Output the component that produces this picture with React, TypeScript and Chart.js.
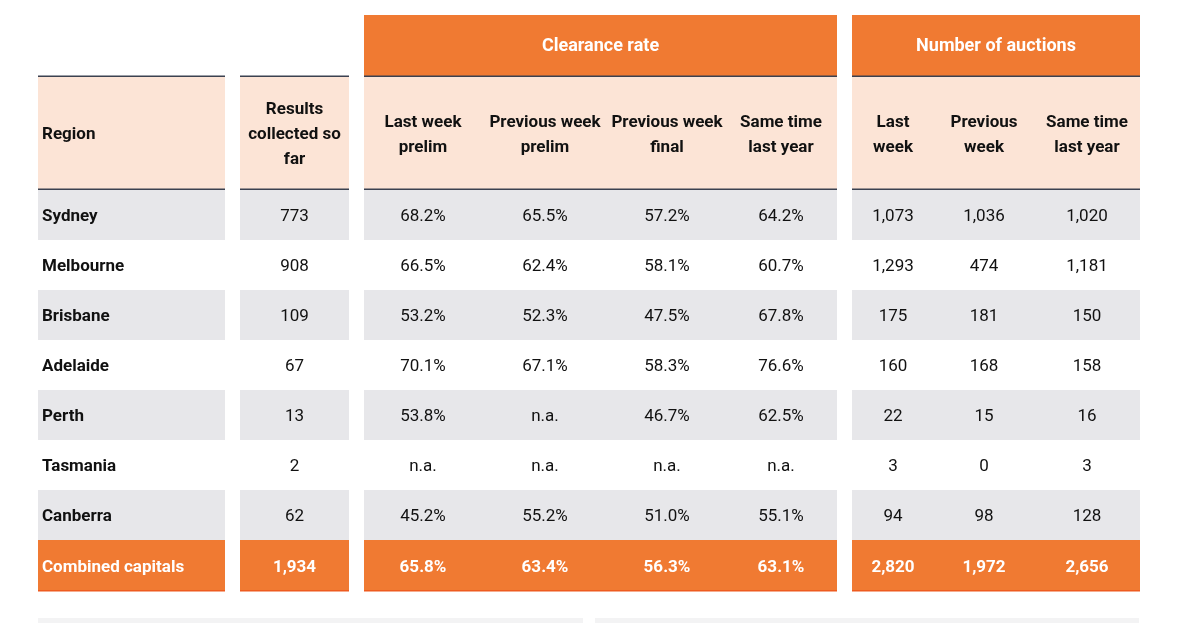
import React, { useEffect, useRef } from 'react';
import { Chart, registerables } from 'chart.js';

Chart.register(...registerables);

// ---------- DATA ----------
const regions = ['Sydney', 'Melbourne', 'Brisbane', 'Adelaide', 'Perth', 'Tasmania', 'Canberra'];
const resultsCollected = [773, 908, 109, 67, 13, 2, 62];
const lastWeekPrelim = [68.2, 66.5, 53.2, 70.1, 53.8, null, 45.2];
const prevWeekPrelim = [65.5, 62.4, 52.3, 67.1, null, null, 55.2];
const prevWeekFinal = [57.2, 58.1, 47.5, 58.3, 46.7, null, 51.0];
const sameTimeLastYearRate = [64.2, 60.7, 67.8, 76.6, 62.5, null, 55.1];
const auctionsLastWeek = [1073, 1293, 175, 160, 22, 3, 94];
const auctionsPrevWeek = [1036, 474, 181, 168, 15, 0, 98];
const auctionsLastYear = [1020, 1181, 150, 158, 16, 3, 128];

const combinedLabel = 'Combined capitals';
const combinedResults = 1934;
const combinedRates = [65.8, 63.4, 56.3, 63.1];
const combinedAuctions = [2820, 1972, 2656];

const groupHeaders = ['Clearance rate', 'Number of auctions'];
const regionHeader = 'Region';
const resultsHeader = ['Results', 'collected so', 'far'];
const rateHeaders = [
  ['Last week', 'prelim'],
  ['Previous week', 'prelim'],
  ['Previous week', 'final'],
  ['Same time', 'last year'],
];
const auctionHeaders = [
  ['Last', 'week'],
  ['Previous', 'week'],
  ['Same time', 'last year'],
];

// ---------- LAYOUT / STYLE ----------
const W = 1187;
const H = 623;
const blocks = [
  [38, 225],
  [240, 349],
  [364, 837],
  [852, 1140],
];
const colCenters = [294.5, 423, 545, 667, 781, 893, 984, 1087];
const regionTextX = 42;
const ROW_TOP = 190;
const ROW_H = 50;
const HEAD1_TOP = 15;
const HEAD_LINE = 76;
const HEAD2_BOTTOM = 189;

const ORANGE = '#f07a32';
const ORANGE_DARK = '#ee5b1f';
const PEACH = '#fce4d6';
const GRAY = '#e7e7ea';
const LINE = '#3b4150';
const TEXT = '#111111';
const FONT = 'Roboto, "Noto Sans", sans-serif';

const fmtInt = (v: number) => v.toLocaleString('en-US');
const fmtPct = (v: number | null) => (v == null ? 'n.a.' : v.toFixed(1) + '%');

const tablePlugin = {
  id: 'tablePlugin',
  afterDraw(chart: any) {
    const ctx: CanvasRenderingContext2D = chart.ctx;
    const xs = chart.scales.x;
    const ys = chart.scales.y;
    const px = (v: number) => xs.getPixelForValue(v);
    const py = (v: number) => ys.getPixelForValue(v);
    const rect = (x0: number, y0: number, x1: number, y1: number, color: string) => {
      ctx.fillStyle = color;
      const a = px(x0), b = px(x1), c = py(y0), d = py(y1);
      ctx.fillRect(Math.min(a, b), Math.min(c, d), Math.abs(b - a), Math.abs(d - c));
    };
    const text = (s: string, x: number, y: number, bold: boolean, color: string, align: CanvasTextAlign = 'center', size = 17) => {
      ctx.font = `${bold ? 'bold ' : ''}${size}px ${FONT}`;
      ctx.fillStyle = color;
      ctx.textAlign = align;
      ctx.textBaseline = 'middle';
      ctx.fillText(s, px(x), py(y) + 2);
    };

    ctx.save();
    // group header band (orange) above rate & auction blocks
    [blocks[2], blocks[3]].forEach((b, i) => {
      rect(b[0], HEAD1_TOP, b[1], HEAD_LINE, ORANGE);
      text(groupHeaders[i], (b[0] + b[1]) / 2, (HEAD1_TOP + HEAD_LINE) / 2 - 1, true, '#ffffff', 'center', 18);
    });
    // sub header band (peach)
    blocks.forEach((b) => {
      rect(b[0], HEAD_LINE, b[1], HEAD2_BOTTOM, PEACH);
    });
    // rows
    const nRows = regions.length;
    for (let i = 0; i < nRows; i++) {
      if (i % 2 === 0) {
        const t = ROW_TOP + i * ROW_H;
        blocks.forEach((b) => rect(b[0], t, b[1], t + ROW_H, GRAY));
      }
    }
    const cTop = ROW_TOP + nRows * ROW_H;
    blocks.forEach((b) => {
      rect(b[0], cTop, b[1], cTop + ROW_H, ORANGE);
      rect(b[0], cTop + ROW_H, b[1], cTop + ROW_H + 1.5, ORANGE_DARK);
    });
    // dark rules
    blocks.forEach((b) => {
      rect(b[0], HEAD_LINE - 0.5, b[1], HEAD_LINE + 1, LINE);
      rect(b[0], HEAD2_BOTTOM - 0.5, b[1], HEAD2_BOTTOM + 1, LINE);
    });
    // faint strips at the bottom (next table)
    rect(38, 618, 583, 623, '#f3f3f4');
    rect(595, 618, 1139, 623, '#f3f3f4');

    // header texts
    const hMid = (HEAD_LINE + HEAD2_BOTTOM) / 2 + 0.5;
    text(regionHeader, regionTextX, hMid, true, TEXT, 'left');
    resultsHeader.forEach((s, k) => text(s, colCenters[0], hMid + (k - 1) * 25, true, TEXT));
    [...rateHeaders, ...auctionHeaders].forEach((lines, j) => {
      lines.forEach((s, k) => text(s, colCenters[1 + j], hMid + (k - 0.5) * 25, true, TEXT));
    });

    // body texts
    for (let i = 0; i < nRows; i++) {
      const yc = ROW_TOP + i * ROW_H + ROW_H / 2;
      text(regions[i], regionTextX, yc, true, TEXT, 'left');
      const cells = [
        fmtInt(resultsCollected[i]),
        fmtPct(lastWeekPrelim[i]),
        fmtPct(prevWeekPrelim[i]),
        fmtPct(prevWeekFinal[i]),
        fmtPct(sameTimeLastYearRate[i]),
        fmtInt(auctionsLastWeek[i]),
        fmtInt(auctionsPrevWeek[i]),
        fmtInt(auctionsLastYear[i]),
      ];
      cells.forEach((s, j) => text(s, colCenters[j], yc, false, TEXT));
    }
    const yc = cTop + ROW_H / 2 + 1;
    text(combinedLabel, regionTextX, yc, true, '#ffffff', 'left');
    const cCells = [fmtInt(combinedResults), ...combinedRates.map(fmtPct), ...combinedAuctions.map(fmtInt)];
    cCells.forEach((s, j) => text(s, colCenters[j], yc, true, '#ffffff'));
    ctx.restore();
  },
};

export default function App() {
  const ref = useRef<HTMLCanvasElement | null>(null);
  useEffect(() => {
    document.body.style.margin = '0';
    document.body.style.overflow = 'hidden';
    const canvas = ref.current;
    if (!canvas) return;
    const chart = new Chart(canvas, {
      type: 'scatter',
      data: { datasets: [{ data: [], pointRadius: 0 }] },
      options: {
        responsive: false,
        animation: false,
        devicePixelRatio: 1,
        layout: { padding: 0 },
        plugins: { legend: { display: false }, tooltip: { enabled: false }, title: { display: false } },
        events: [],
        scales: {
          x: { type: 'linear', min: 0, max: W, display: false },
          y: { type: 'linear', min: 0, max: H, reverse: true, display: false },
        },
      },
      plugins: [tablePlugin],
    });
    return () => chart.destroy();
  }, []);
  return (
    <div style={{ width: W, height: H, background: '#ffffff' }}>
      <canvas ref={ref} width={W} height={H} style={{ display: 'block' }} />
    </div>
  );
}
